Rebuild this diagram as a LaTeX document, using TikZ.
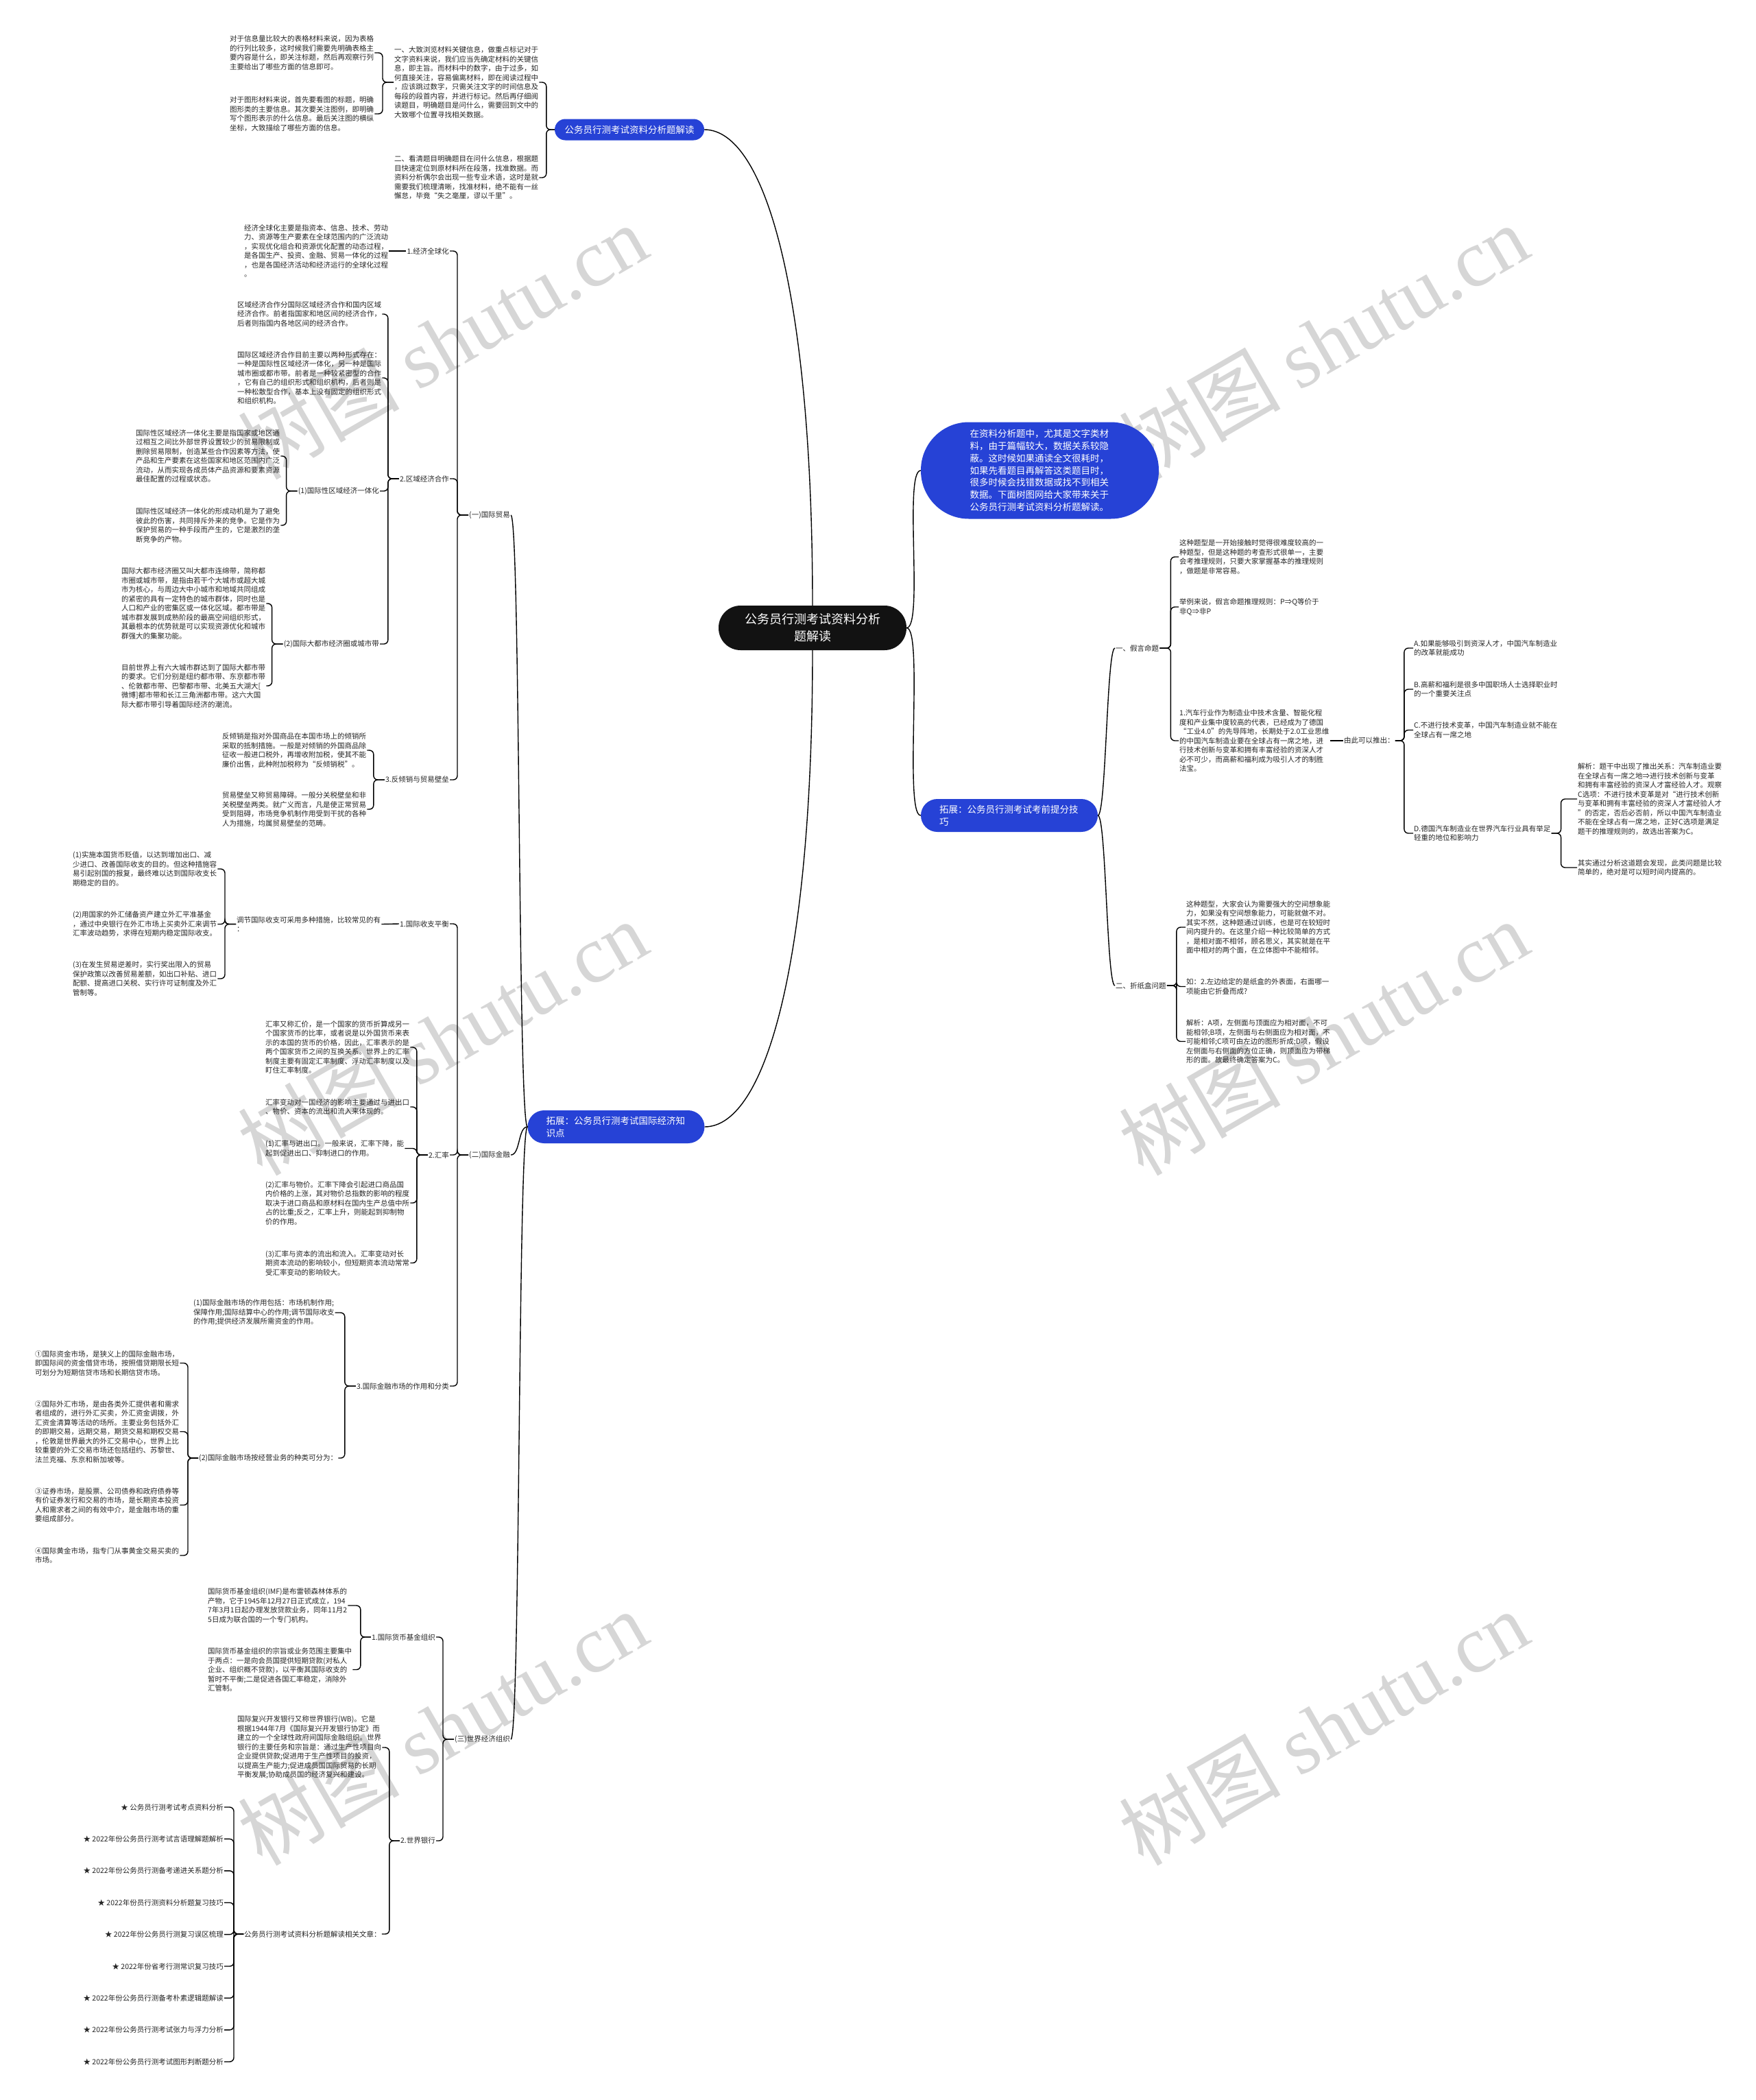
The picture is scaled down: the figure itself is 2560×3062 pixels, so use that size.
\documentclass[tikz,border=0pt]{standalone}
\usepackage{fontspec}
\setmainfont{Noto Sans CJK SC}
\newfontfamily\wmserif{Liberation Serif}
\definecolor{topicblue}{RGB}{38,66,214}
\definecolor{wmgray}{RGB}{214,214,214}
\tikzset{
	txt/.style={font=\fontsize{10.5}{13.5}\selectfont, align=left, inner sep=1pt, text=black!85, anchor=west},
	lab/.style={txt, anchor=east},
	topic/.style={fill=topicblue, text=white, font=\fontsize{13.5}{17.8}\selectfont, align=left, text width=204pt, inner sep=0pt},
	rootbox/.style={fill=black!93, text=white, font=\fontsize{18}{25}\selectfont, align=center, inner sep=0pt, minimum width=274pt, minimum height=65pt, rounded corners=32pt},
	link/.style={line width=1.4pt, rounded corners=6pt},
	curve/.style={line width=1.4pt},
	wmark/.style={text=wmgray, rotate=30, font=\fontsize{118}{118}\selectfont}
}
\begin{document}
\begin{tikzpicture}[x=1pt,y=-1pt]
	\fill[white] (0,0) rectangle (2560,3062);
	\useasboundingbox (0,0) rectangle (2560,3062);

	\foreach \wx/\wy in {645/498, 1930/498, 645/1513, 1930/1513, 645/2519, 1930/2519}
		\node[wmark] at (\wx,\wy) {树图 {\wmserif shutu.cn}};

	% centre and main topics
	\node[rootbox] (root) at (1185,915.5) {公务员行测考试资料分析\\题解读};
	\node[topic, text width=192pt, align=center, minimum width=218pt, minimum height=31pt, rounded corners=15.5pt] (b1) at (918,189) {公务员行测考试资料分析题解读};
	\node[topic, minimum width=347pt, minimum height=141pt, rounded corners=70pt] (b2) at (1516.5,686) {在资料分析题中，尤其是文字类材\\料，由于篇幅较大，数据关系较隐\\蔽。这时候如果通读全文很耗时，\\如果先看题目再解答这类题目时，\\很多时候会找错数据或找不到相关\\数据。下面树图网给大家带来关于\\公务员行测考试资料分析题解读。};
	\node[topic, minimum width=258pt, minimum height=48pt, rounded corners=24pt] (b3) at (1472,1189) {拓展：公务员行测考试考前提分技\\巧};
	\node[topic, minimum width=258pt, minimum height=48pt, rounded corners=24pt] (b4) at (898.5,1643) {拓展：公务员行测考试国际经济知\\识点};

	\draw[curve] (b1.east) .. controls +(90,0) and +(0,-450) .. (root.north);
	\draw[curve] (root.south) .. controls +(0,450) and +(90,0) .. (b4.east);
	\draw[curve] (root.east) .. controls +(25,0) and +(-25,0) .. (b2.west);
	\draw[curve] (root.east) .. controls +(25,0) and +(-25,0) .. (b3.west);

	% 资料分析题解读
	\node[txt] (t1) at (574,120) {一、大致浏览材料关键信息，做重点标记对于\\文字资料来说，我们应当先确定材料的关键信\\息，即主旨。而材料中的数字，由于过多，如\\何直接关注，容易偏离材料，即在阅读过程中\\，应该跳过数字，只需关注文字的时间信息及\\每段的段首内容，并进行标记。然后再仔细阅\\读题目，明确题目是问什么，需要回到文中的\\大致哪个位置寻找相关数据。};
	\node[txt] (t2) at (574,259) {二、看清题目明确题目在问什么信息，根据题\\目快速定位到原材料所在段落，找准数据。而\\资料分析偶尔会出现一些专业术语，这时是就\\需要我们梳理清晰，找准材料，绝不能有一丝\\懈怠，毕竟“失之毫厘，谬以千里”。};
	\node[txt] (t1a) at (334,77) {对于信息量比较大的表格材料来说，因为表格\\的行列比较多，这时候我们需要先明确表格主\\要内容是什么，即关注标题，然后再观察行列\\主要给出了哪些方面的信息即可。};
	\node[txt] (t1b) at (334,166) {对于图形材料来说，首先要看图的标题，明确\\图形类的主要信息。其次要关注图例，即明确\\写个图形表示的什么信息。最后关注图的横纵\\坐标，大致描绘了哪些方面的信息。};
	\foreach \n in {t1,t2} \draw[link] (b1.west) -- ++(-12,0) |- (\n.east);
	\foreach \n in {t1a,t1b} \draw[link] (t1.west) -- ++(-16,0) |- (\n.east);

	% 国际经济知识点
	\node[lab] (yi) at (745,751) {(一)国际贸易};
	\node[lab] (er) at (745,1684) {(二)国际金融};
	\node[lab] (san) at (745,2536) {(三)世界经济组织};
	\foreach \n in {yi,er,san} \draw[curve] (b4.west) .. controls +(-14,0) and +(14,0) .. (\n.east);

	% (一)国际贸易
	\node[lab] (jq) at (656,366) {1.经济全球化};
	\node[lab] (qy) at (656,698) {2.区域经济合作};
	\node[lab] (fq) at (656,1137) {3.反倾销与贸易壁垒};
	\foreach \n in {jq,qy,fq} \draw[link] (yi.west) -- ++(-16,0) |- (\n.east);

	\node[txt] (jq1) at (355,366) {经济全球化主要是指资本、信息、技术、劳动\\力、资源等生产要素在全球范围内的广泛流动\\，实现优化组合和资源优化配置的动态过程，\\是各国生产、投资、金融、贸易一体化的过程\\，也是各国经济活动和经济运行的全球化过程\\。};
	\draw[link] (jq.west) -- (jq1.east);

	\node[txt] (qy1) at (345,458) {区域经济合作分国际区域经济合作和国内区域\\经济合作。前者指国家和地区间的经济合作，\\后者则指国内各地区间的经济合作。};
	\node[txt] (qy2) at (345,551) {国际区域经济合作目前主要以两种形式存在：\\一种是国际性区域经济一体化，另一种是国际\\城市圈或都市带。前者是一种较紧密型的合作\\，它有自己的组织形式和组织机构，后者则是\\一种松散型合作，基本上没有固定的组织形式\\和组织机构。};
	\node[lab] (yth) at (554,716) {(1)国际性区域经济一体化};
	\node[lab] (dsq) at (554,939) {(2)国际大都市经济圈或城市带};
	\foreach \n in {qy1,qy2,yth,dsq} \draw[link] (qy.west) -- ++(-16,0) |- (\n.east);

	\node[txt] (yth1) at (197,665) {国际性区域经济一体化主要是指国家或地区通\\过相互之间比外部世界设置较少的贸易限制或\\删除贸易限制，创造某些合作因素等方法，使\\产品和生产要素在这些国家和地区范围内广泛\\流动，从而实现各成员体产品资源和要素资源\\最佳配置的过程或状态。};
	\node[txt] (yth2) at (197,766) {国际性区域经济一体化的形成动机是为了避免\\彼此的伤害，共同排斥外来的竞争。它是作为\\保护贸易的一种手段而产生的，它是激烈的垄\\断竞争的产物。};
	\foreach \n in {yth1,yth2} \draw[link] (yth.west) -- ++(-16,0) |- (\n.east);

	\node[txt] (dsq1) at (176,880) {国际大都市经济圈又叫大都市连绵带，简称都\\市圈或城市带，是指由若干个大城市或超大城\\市为核心，与周边大中小城市和地域共同组成\\的紧密的具有一定特色的城市群体，同时也是\\人口和产业的密集区或一体化区域。都市带是\\城市群发展到成熟阶段的最高空间组织形式，\\其最根本的优势就是可以实现资源优化和城市\\群强大的集聚功能。};
	\node[txt] (dsq2) at (176,1000) {目前世界上有六大城市群达到了国际大都市带\\的要求。它们分别是纽约都市带、东京都市带\\、伦敦都市带、巴黎都市带、北美五大湖大[\\微博]都市带和长江三角洲都市带。这六大国\\际大都市带引导着国际经济的潮流。};
	\foreach \n in {dsq1,dsq2} \draw[link] (dsq.west) -- ++(-16,0) |- (\n.east);

	\node[txt] (fq1) at (323,1094) {反倾销是指对外国商品在本国市场上的倾销所\\采取的抵制措施。一般是对倾销的外国商品除\\征收一般进口税外，再增收附加税，使其不能\\廉价出售，此种附加税称为“反倾销税”。};
	\node[txt] (fq2) at (323,1180) {贸易壁垒又称贸易障碍。一般分关税壁垒和非\\关税壁垒两类。就广义而言，凡是使正常贸易\\受到阻碍，市场竞争机制作用受到干扰的各种\\人为措施，均属贸易壁垒的范畴。};
	\foreach \n in {fq1,fq2} \draw[link] (fq.west) -- ++(-16,0) |- (\n.east);

	% (二)国际金融
	\node[lab] (sz) at (656,1347) {1.国际收支平衡};
	\node[lab] (hl) at (656,1684) {2.汇率};
	\node[lab] (jr) at (656,2021) {3.国际金融市场的作用和分类};
	\foreach \n in {sz,hl,jr} \draw[link] (er.west) -- ++(-16,0) |- (\n.east);

	\node[txt] (sz0) at (344,1347.5) {调节国际收支可采用多种措施，比较常见的有\\：};
	\draw[link] (sz.west) -- (sz0.east);
	\node[txt] (sz1) at (105,1267) {(1)实施本国货币贬值，以达到增加出口、减\\少进口、改善国际收支的目的。但这种措施容\\易引起别国的报复，最终难以达到国际收支长\\期稳定的目的。};
	\node[txt] (sz2) at (105,1347.5) {(2)用国家的外汇储备资产建立外汇平准基金\\，通过中央银行在外汇市场上买卖外汇来调节\\汇率波动趋势，求得在短期内稳定国际收支。};
	\node[txt] (sz3) at (105,1427) {(3)在发生贸易逆差时，实行奖出限入的贸易\\保护政策以改善贸易差额，如出口补贴、进口\\配额、提高进口关税、实行许可证制度及外汇\\管制等。};
	\foreach \n in {sz1,sz2,sz3} \draw[link] (sz0.west) -- ++(-16,0) |- (\n.east);

	\node[txt] (hl1) at (386,1527) {汇率又称汇价，是一个国家的货币折算成另一\\个国家货币的比率，或者说是以外国货币来表\\示的本国的货币的价格，因此，汇率表示的是\\两个国家货币之间的互换关系。世界上的汇率\\制度主要有固定汇率制度、浮动汇率制度以及\\盯住汇率制度。};
	\node[txt] (hl2) at (386,1614) {汇率变动对一国经济的影响主要通过与进出口\\、物价、资本的流出和流入来体现的。};
	\node[txt] (hl3) at (386,1674.5) {(1)汇率与进出口。一般来说，汇率下降，能\\起到促进出口、抑制进口的作用。};
	\node[txt] (hl4) at (386,1754) {(2)汇率与物价。汇率下降会引起进口商品国\\内价格的上涨，其对物价总指数的影响的程度\\取决于进口商品和原材料在国内生产总值中所\\占的比重;反之，汇率上升，则能起到抑制物\\价的作用。};
	\node[txt] (hl5) at (386,1841.5) {(3)汇率与资本的流出和流入。汇率变动对长\\期资本流动的影响较小，但短期资本流动常常\\受汇率变动的影响较大。};
	\foreach \n in {hl1,hl2,hl3,hl4,hl5} \draw[link] (hl.west) -- ++(-16,0) |- (\n.east);

	\node[txt] (jr1) at (281,1914) {(1)国际金融市场的作用包括：市场机制作用;\\保障作用;国际结算中心的作用;调节国际收支\\的作用;提供经济发展所需资金的作用。};
	\node[txt] (jr2) at (289,2126) {(2)国际金融市场按经营业务的种类可分为：};
	\foreach \n in {jr1,jr2} \draw[link] (jr.west) -- ++(-16,0) |- (\n.east);

	\node[txt] (jr2a) at (50,1987.5) {①国际资金市场，是狭义上的国际金融市场，\\即国际间的资金借贷市场，按照借贷期限长短\\可划分为短期信贷市场和长期信贷市场。};
	\node[txt] (jr2b) at (50,2087.5) {②国际外汇市场，是由各类外汇提供者和需求\\者组成的，进行外汇买卖，外汇资金调拨，外\\汇资金清算等活动的场所。主要业务包括外汇\\的即期交易，远期交易，期货交易和期权交易\\，伦敦是世界最大的外汇交易中心，世界上比\\较重要的外汇交易市场还包括纽约、苏黎世、\\法兰克福、东京和新加坡等。};
	\node[txt] (jr2c) at (50,2194.5) {③证券市场，是股票、公司债券和政府债券等\\有价证券发行和交易的市场，是长期资本投资\\人和需求者之间的有效中介，是金融市场的重\\要组成部分。};
	\node[txt] (jr2d) at (50,2268) {④国际黄金市场，指专门从事黄金交易买卖的\\市场。};
	\foreach \n in {jr2a,jr2b,jr2c,jr2d} \draw[link] (jr2.west) -- ++(-15,0) |- (\n.east);

	% (三)世界经济组织
	\node[lab] (imf) at (636,2387) {1.国际货币基金组织};
	\node[lab] (wb) at (636,2684) {2.世界银行};
	\foreach \n in {imf,wb} \draw[link] (san.west) -- ++(-16,0) |- (\n.east);

	\node[txt] (imf1) at (302,2341) {国际货币基金组织(IMF)是布雷顿森林体系的\\产物，它于1945年12月27日正式成立，194\\7年3月1日起办理发放贷款业务，同年11月2\\5日成为联合国的一个专门机构。};
	\node[txt] (imf2) at (302,2434.5) {国际货币基金组织的宗旨或业务范围主要集中\\于两点：一是向会员国提供短期贷款(对私人\\企业、组织概不贷款)，以平衡其国际收支的\\暂时不平衡;二是促进各国汇率稳定，消除外\\汇管制。};
	\foreach \n in {imf1,imf2} \draw[link] (imf.west) -- ++(-15,0) |- (\n.east);

	\node[txt] (wb1) at (345,2548) {国际复兴开发银行又称世界银行(WB)。它是\\根据1944年7月《国际复兴开发银行协定》而\\建立的一个全球性政府间国际金融组织。世界\\银行的主要任务和宗旨是：通过生产性项目向\\企业提供贷款;促进用于生产性项目的投资，\\以提高生产能力;促进成员国国际贸易的长期\\平衡发展;协助成员国的经济复兴和建设。};
	\node[txt] (wb2) at (355,2820) {公务员行测考试资料分析题解读相关文章：};
	\foreach \n in {wb1,wb2} \draw[link] (wb.west) -- ++(-15,0) |- (\n.east);

	\foreach \s [count=\i] in {公务员行测考试考点资料分析, 2022年份公务员行测考试言语理解题解析, 2022年份公务员行测备考递进关系题分析, 2022年份员行测资料分析题复习技巧, 2022年份公务员行测复习误区梳理, 2022年份省考行测常识复习技巧, 2022年份公务员行测备考朴素逻辑题解读, 2022年份公务员行测考试张力与浮力分析, 2022年份公务员行测考试图形判断题分析}
		\node[lab] (s\i) at (327,{2588.6+46.4*\i}) {★ \s};
	\foreach \i in {1,...,9} \draw[link] (wb2.west) -- ++(-14,0) |- (s\i.east);

	% 考前提分技巧
	\node[txt] (jy) at (1626,945) {一、假言命题};
	\node[txt] (zh) at (1626,1437) {二、折纸盒问题};
	\foreach \n in {jy,zh} \draw[curve] (b3.east) .. controls +(12,0) and +(-12,0) .. (\n.west);

	\node[txt] (q1) at (1719,812) {这种题型是一开始接触时觉得很难度较高的一\\种题型，但是这种题的考查形式很单一，主要\\会考推理规则，只要大家掌握基本的推理规则\\，做题是非常容易。};
	\node[txt] (q2) at (1719,885) {举例来说，假言命题推理规则：P⇒Q等价于\\非Q⇒非P};
	\node[txt] (q3) at (1719,1080) {1.汽车行业作为制造业中技术含量、智能化程\\度和产业集中度较高的代表，已经成为了德国\\“工业4.0”的先导阵地，长期处于2.0工业思维\\的中国汽车制造业要在全球占有一席之地，进\\行技术创新与变革和拥有丰富经验的资深人才\\必不可少，而高薪和福利成为吸引人才的制胜\\法宝。};
	\foreach \n in {q1,q2,q3} \draw[link] (jy.east) -- ++(16,0) |- (\n.west);

	\node[txt] (tc) at (1959,1080) {由此可以推出：};
	\draw[link] (q3.east) -- (tc.west);
	\node[txt] (oa) at (2061,945) {A.如果能够吸引到资深人才，中国汽车制造业\\的改革就能成功};
	\node[txt] (ob) at (2061,1005) {B.高薪和福利是很多中国职场人士选择职业时\\的一个重要关注点};
	\node[txt] (oc) at (2061,1064.5) {C.不进行技术变革，中国汽车制造业就不能在\\全球占有一席之地};
	\node[txt] (od) at (2061,1215) {D.德国汽车制造业在世界汽车行业具有举足\\轻重的地位和影响力};
	\foreach \n in {oa,ob,oc,od} \draw[link] (tc.east) -- ++(13,0) |- (\n.west);

	\node[txt] (j1) at (2300,1165) {解析：题干中出现了推出关系：汽车制造业要\\在全球占有一席之地⇒进行技术创新与变革\\和拥有丰富经验的资深人才富经验人才。观察\\C选项：不进行技术变革是对“进行技术创新\\与变革和拥有丰富经验的资深人才富经验人才\\”的否定，否后必否前，所以中国汽车制造业\\不能在全球占有一席之地，正好C选项是满足\\题干的推理规则的，故选出答案为C。};
	\node[txt] (j2) at (2300,1265) {其实通过分析这道题会发现，此类问题是比较\\简单的，绝对是可以短时间内提高的。};
	\foreach \n in {j1,j2} \draw[link] (od.east) -- ++(14,0) |- (\n.west);

	\node[txt] (k1) at (1729,1352) {这种题型，大家会认为需要强大的空间想象能\\力，如果没有空间想象能力，可能就做不对。\\其实不然，这种题通过训练，也是可在较短时\\间内提升的。在这里介绍一种比较简单的方式\\，是相对面不相邻，顾名思义，其实就是在平\\面中相对的两个面，在立体图中不能相邻。};
	\node[txt] (k2) at (1729,1438.5) {如：2.左边给定的是纸盒的外表面，右面哪一\\项能由它折叠而成?};
	\node[txt] (k3) at (1729,1518.5) {解析：A项，左侧面与顶面应为相对面，不可\\能相邻;B项，左侧面与右侧面应为相对面，不\\可能相邻;C项可由左边的图形折成;D项，假设\\左侧面与右侧面的方位正确，则顶面应为带梯\\形的面。故最终确定答案为C。};
	\foreach \n in {k1,k2,k3} \draw[link] (zh.east) -- ++(14,0) |- (\n.west);
\end{tikzpicture}
\end{document}
